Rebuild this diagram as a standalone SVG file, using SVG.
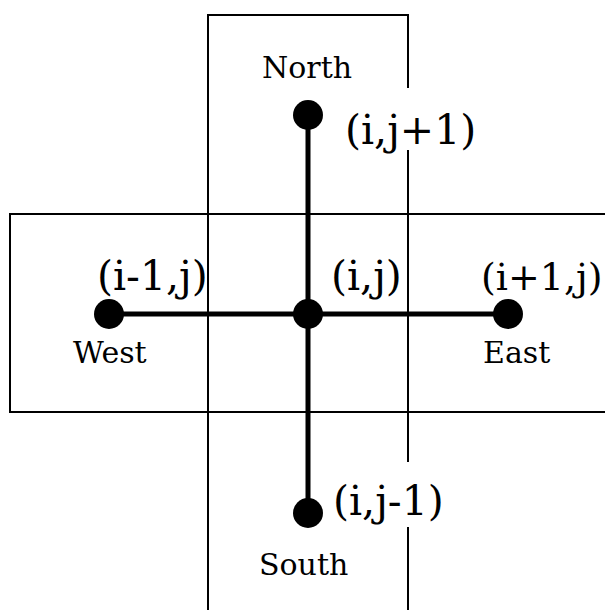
<svg xmlns="http://www.w3.org/2000/svg" width="605" height="610" viewBox="0 0 605 610">
<style>
.cell{fill:none;stroke:#000;stroke-width:2}
.bg{fill:#fff;stroke:none}
.edge{stroke:#000;stroke-width:5;fill:none}
.dot{fill:#000}
.coord{font-family:"DejaVu Serif",serif;font-size:41px;fill:#000}
.name{font-family:"DejaVu Serif",serif;font-size:30px;fill:#000}
</style>
<g id="cells">
<rect class="cell" x="208" y="15" width="200" height="605"/>
<rect class="cell" x="10" y="214" width="610" height="198"/>
</g>
<g id="label-backgrounds">
<rect class="bg" x="340" y="88" width="132" height="62"/>
<rect class="bg" x="330" y="462" width="122" height="65"/>
</g>
<g id="connectors">
<line class="edge" x1="308" y1="115" x2="308" y2="513"/>
<line class="edge" x1="109" y1="314" x2="508" y2="314"/>
</g>
<g id="north">
<circle class="dot" cx="308" cy="115" r="15"/>
<text class="name" x="262" y="78">North</text>
<text class="coord" x="345" y="144">(i,j+1)</text>
</g>
<g id="west">
<circle class="dot" cx="109" cy="314" r="15"/>
<text class="coord" x="97" y="290">(i-1,j)</text>
<text class="name" x="73" y="363">West</text>
</g>
<g id="center">
<circle class="dot" cx="308" cy="314" r="15"/>
<text class="coord" x="331" y="290">(i,j)</text>
</g>
<g id="east">
<circle class="dot" cx="508" cy="314" r="15"/>
<text class="coord" x="481" y="290" style="font-size:38px">(i+1,j)</text>
<text class="name" x="483" y="363">East</text>
</g>
<g id="south">
<circle class="dot" cx="308" cy="513" r="15"/>
<text class="coord" x="333" y="515">(i,j-1)</text>
<text class="name" x="259" y="575">South</text>
</g>
</svg>
